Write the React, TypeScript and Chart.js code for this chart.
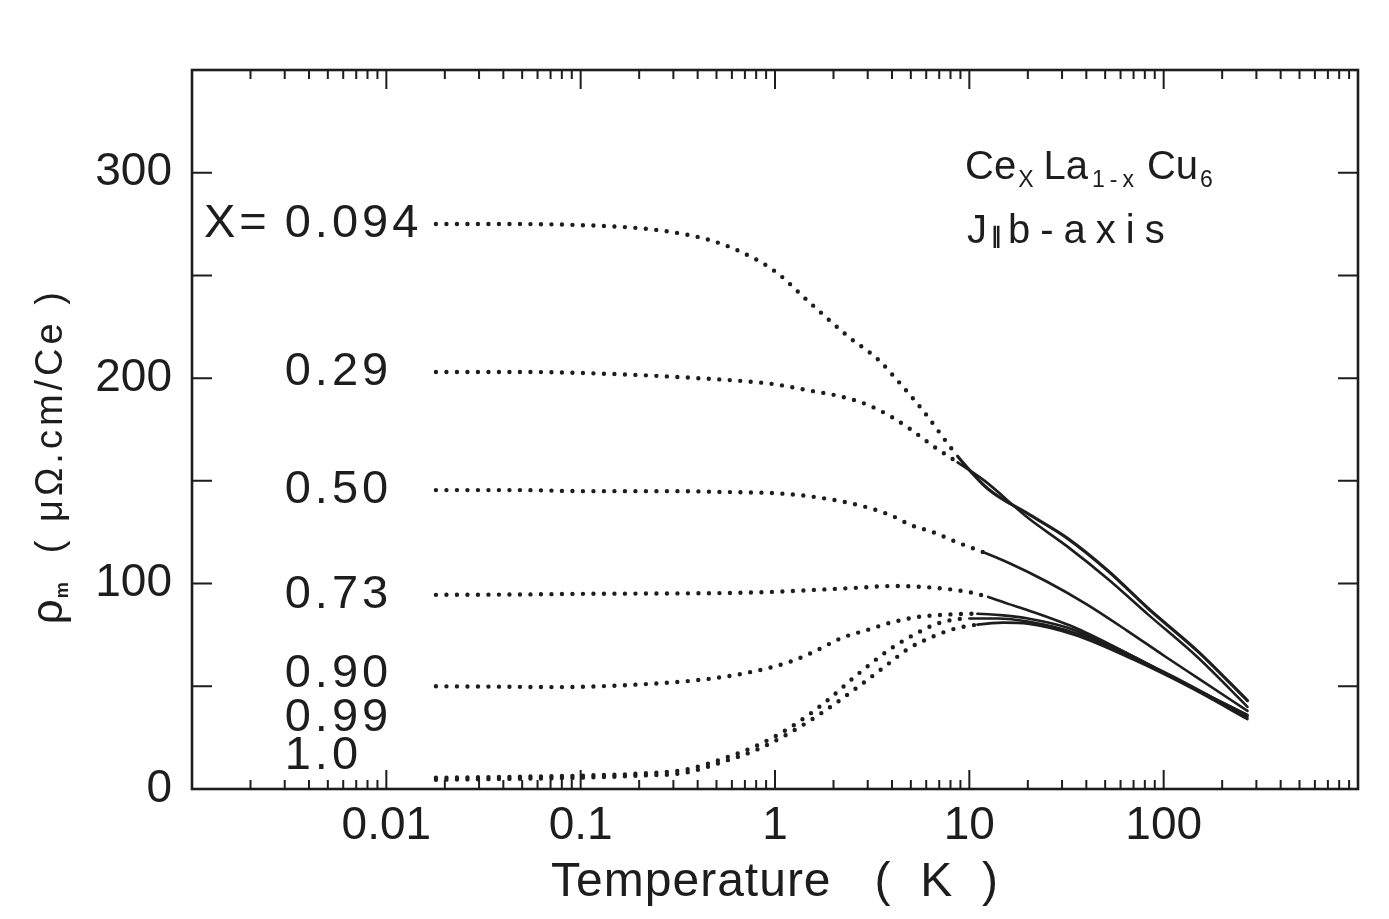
import React, { useEffect, useRef } from "react";
import { Chart, registerables } from "chart.js";

Chart.register(...registerables);

const FONT = "'Liberation Sans', Arial, sans-serif";
const INK = "#1d1d1d";

// ---- data (T in K, rho in μΩ·cm/Ce) ----
const t094 = [0.018, 0.03, 0.05, 0.1, 0.2, 0.3, 0.45, 0.65, 1.0, 1.5, 2.4, 3.4, 4.3, 5.8, 8.7, 12.5, 20, 32, 52, 83, 150, 270];
const rho094 = [275, 275, 275, 274.5, 273, 271, 267.5, 262, 252, 237, 220, 209, 198.5, 184, 162, 146, 134, 122, 106, 88, 67, 43];

const t029 = [0.018, 0.05, 0.1, 0.2, 0.4, 0.7, 1.0, 1.5, 2.2, 3.0, 4.0, 5.0, 6.5, 8.7, 12, 20, 32, 52, 83, 150, 270];
const rho029 = [203, 203, 202.5, 201.5, 200, 198.5, 197, 194, 191, 187, 181, 175, 167, 159, 150, 132, 118, 102, 85, 64, 40];

const t050 = [0.018, 0.05, 0.1, 0.3, 0.6, 1.0, 1.5, 2.2, 3.0, 4.0, 5.0, 6.5, 8.7, 12, 16, 25, 40, 65, 100, 150, 270];
const rho050 = [145.5, 145.5, 145, 145, 144.5, 144, 142.5, 140, 137, 133, 128.5, 125, 120, 115, 110, 101, 90, 77, 65, 54, 38];

const t073 = [0.018, 0.05, 0.1, 0.3, 0.55, 1.0, 1.5, 2.7, 4.0, 5.9, 7.8, 10, 12.5, 16, 20, 36, 65, 118, 270];
const rho073 = [94.5, 94.7, 95, 95.2, 95.4, 96, 96.8, 98, 98.8, 98.3, 97.3, 95.8, 93.5, 90, 87, 78, 66, 53, 36];

const t090 = [0.018, 0.04, 0.076, 0.21, 0.4, 0.67, 1.2, 1.6, 2.2, 3.0, 3.95, 5.4, 8.0, 11, 15, 20, 32, 65, 130, 270];
const rho090 = [50, 49.8, 49.6, 51, 53, 56, 62, 67, 73.5, 77.5, 81, 83.7, 85, 85.3, 84.5, 83, 78.5, 66, 51, 36];

const t099 = [0.018, 0.05, 0.1, 0.2, 0.35, 0.55, 0.8, 1.2, 1.8, 2.6, 3.9, 5.4, 7.1, 10, 14, 20, 35, 70, 140, 270];
const rho099 = [5.5, 6, 6.5, 7.5, 9.5, 15, 21, 30, 42, 55, 68, 76, 81, 83, 83, 81.5, 76, 64, 50, 35];

const t100 = [0.018, 0.05, 0.1, 0.2, 0.35, 0.55, 0.8, 1.2, 1.8, 2.7, 3.9, 4.8, 6.6, 8.4, 11, 15, 20, 35, 70, 140, 270];
const rho100 = [4.5, 5, 5.5, 6.5, 8, 13.5, 19, 27.5, 38, 50, 61.5, 68, 74.5, 78, 80, 81, 80.5, 75, 63, 49, 34];

const seriesLabels = ["0.094", "0.29", "0.50", "0.73", "0.90", "0.99", "1.0"];
const seriesT = [t094, t029, t050, t073, t090, t099, t100];
const seriesRho = [rho094, rho029, rho050, rho073, rho090, rho099, rho100];
// below this temperature the measurement is drawn as dots
const dottedBelow = [11, 9, 15, 12.5, 12, 13, 13];

// ---- axes ----
const xRange = [0.001, 1000];
const yRange = [0, 350];
const xTickLabels = [0.01, 0.1, 1, 10, 100];
const xDecades = [0.001, 0.01, 0.1, 1, 10, 100, 1000];
const xMinorFactors = [2, 3, 4, 5, 6, 7, 8, 9];
const yTickLabels = [0, 100, 200, 300];
const yTickMarks = [50, 100, 150, 200, 250, 300];

// label anchors (data units)
const labelT = 0.003;
const labelRho = [275, 203, 145.5, 94.5, 56, 34.5, 16];

function drawRuns(ctx: CanvasRenderingContext2D, x: number, y: number, runs: { text: string; size: number; dy?: number; spacing?: number; gap?: number; weight?: string }[]) {
  let cx = x;
  for (const r of runs) {
    cx += r.gap || 0;
    ctx.font = `${r.weight || ""} ${r.size}px ${FONT}`;
    (ctx as any).letterSpacing = `${r.spacing || 0}px`;
    ctx.fillText(r.text, cx, y + (r.dy || 0));
    cx += ctx.measureText(r.text).width;
  }
  (ctx as any).letterSpacing = "0px";
  return cx - x;
}

function runsWidth(ctx: CanvasRenderingContext2D, runs: { text: string; size: number; spacing?: number; gap?: number; weight?: string }[]) {
  let w = 0;
  for (const r of runs) {
    ctx.font = `${r.weight || ""} ${r.size}px ${FONT}`;
    (ctx as any).letterSpacing = `${r.spacing || 0}px`;
    w += (r.gap || 0) + ctx.measureText(r.text).width;
  }
  (ctx as any).letterSpacing = "0px";
  return w;
}

const decorPlugin = {
  id: "decor",
  afterDatasetsDraw(chart: any) {
    const { ctx, chartArea: a, scales } = chart;
    const xs = scales.x;
    const ys = scales.y;
    ctx.save();
    ctx.strokeStyle = INK;
    ctx.fillStyle = INK;

    // frame
    ctx.lineWidth = 2.6;
    ctx.strokeRect(a.left, a.top, a.right - a.left, a.bottom - a.top);

    // inward ticks
    ctx.lineWidth = 2;
    ctx.beginPath();
    for (const d of xDecades) {
      if (d > xRange[0] && d < xRange[1]) {
        const px = xs.getPixelForValue(d);
        ctx.moveTo(px, a.bottom);
        ctx.lineTo(px, a.bottom - 19);
        ctx.moveTo(px, a.top);
        ctx.lineTo(px, a.top + 19);
      }
      if (d < xRange[1]) {
        for (const f of xMinorFactors) {
          const px = xs.getPixelForValue(d * f);
          ctx.moveTo(px, a.bottom);
          ctx.lineTo(px, a.bottom - 9);
          ctx.moveTo(px, a.top);
          ctx.lineTo(px, a.top + 9);
        }
      }
    }
    for (const v of yTickMarks) {
      const py = ys.getPixelForValue(v);
      ctx.moveTo(a.left, py);
      ctx.lineTo(a.left + 20, py);
      ctx.moveTo(a.right, py);
      ctx.lineTo(a.right - 20, py);
    }
    ctx.stroke();

    // series labels
    const lx = xs.getPixelForValue(labelT);
    ctx.textBaseline = "middle";
    ctx.textAlign = "left";
    seriesLabels.forEach((s, i) => {
      const py = ys.getPixelForValue(labelRho[i]);
      ctx.font = `47px ${FONT}`;
      (ctx as any).letterSpacing = "4px";
      ctx.fillText(s, lx, py);
      if (i === 0) {
        ctx.textAlign = "right";
        ctx.fillText("X=", lx - 14, py);
        ctx.textAlign = "left";
      }
    });
    (ctx as any).letterSpacing = "0px";

    // composition annotation
    ctx.textBaseline = "alphabetic";
    const cx0 = a.left + 773;
    const cy0 = a.top + 109;
    drawRuns(ctx, cx0, cy0, [
      { text: "Ce", size: 40 },
      { text: "X", size: 23, dy: 8, gap: 2 },
      { text: "La", size: 40, gap: 10 },
      { text: "1-x", size: 23, dy: 8, gap: 4, spacing: 5 },
      { text: "Cu", size: 40, gap: 8 },
      { text: "6", size: 23, dy: 8, gap: 2 },
    ]);
    drawRuns(ctx, cx0 + 2, cy0 + 64, [
      { text: "J", size: 40 },
      { text: "∥", size: 22, gap: 4, weight: "bold" },
      { text: "b-axis", size: 40, gap: 6, spacing: 10 },
    ]);

    // x axis title
    const xt = [{ text: "Temperature   (  K  )", size: 48, spacing: 1 }];
    const xtw = runsWidth(ctx, xt);
    drawRuns(ctx, (a.left + a.right) / 2 - xtw / 2, a.bottom + 107, xt);

    // y axis title (rotated)
    const yt = [
      { text: "ρ", size: 44 },
      { text: "m", size: 18, dy: 6, gap: 1, weight: "bold" },
      { text: "  ( μΩ.cm/Ce )", size: 38, spacing: 4 },
    ];
    const ytw = runsWidth(ctx, yt);
    ctx.save();
    ctx.translate(62, ys.getPixelForValue(162));
    ctx.rotate(-Math.PI / 2);
    drawRuns(ctx, -ytw / 2, 0, yt);
    ctx.restore();

    ctx.restore();
  },
};

export default function App() {
  const ref = useRef<HTMLCanvasElement | null>(null);

  useEffect(() => {
    document.body.style.margin = "0";
    document.body.style.background = "#ffffff";
    const canvas = ref.current;
    if (!canvas) return;
    Chart.defaults.font.family = FONT;

    const chart = new Chart(canvas, {
      type: "line",
      data: {
        datasets: seriesT.map((ts, i) => ({
          label: "x = " + seriesLabels[i],
          data: ts.map((t, j) => ({ x: t, y: seriesRho[i][j] })),
          borderColor: INK,
          backgroundColor: INK,
          borderWidth: 2.5,
          pointRadius: 0,
          fill: false,
          cubicInterpolationMode: "monotone" as const,
          borderCapStyle: "round" as const,
          borderJoinStyle: "round" as const,
          segment: {
            borderDash: (c: any) => (c.p1.parsed.x <= dottedBelow[i] ? [0, 10.5] : []),
            borderWidth: (c: any) => (c.p1.parsed.x <= dottedBelow[i] ? 4.4 : i === 0 ? 3.2 : 2.6),
          },
        })),
      },
      options: {
        responsive: false,
        animation: false,
        events: [],
        layout: { padding: { top: 70, right: 31, left: 0, bottom: 0 } },
        plugins: { legend: { display: false }, tooltip: { enabled: false }, title: { display: false } },
        scales: {
          x: {
            type: "logarithmic",
            min: xRange[0],
            max: xRange[1],
            grid: { display: false, drawTicks: false },
            border: { display: false },
            ticks: {
              font: { family: FONT, size: 46 },
              color: INK,
              padding: 10,
              maxRotation: 0,
              autoSkip: false,
              callback: (v: any) => String(v),
            },
            afterBuildTicks: (s: any) => {
              s.ticks = xTickLabels.map((v) => ({ value: v }));
            },
            afterFit: (s: any) => {
              s.height = 130;
            },
          },
          y: {
            type: "linear",
            min: yRange[0],
            max: yRange[1],
            grid: { display: false, drawTicks: false },
            border: { display: false },
            ticks: {
              font: { family: FONT, size: 46 },
              color: INK,
              padding: 20,
              callback: (v: any) => String(v),
            },
            afterBuildTicks: (s: any) => {
              s.ticks = yTickLabels.map((v) => ({ value: v }));
            },
            afterFit: (s: any) => {
              s.width = 192;
            },
          },
        },
      } as any,
      plugins: [decorPlugin],
    });
    return () => chart.destroy();
  }, []);

  return (
    <div style={{ width: 1389, height: 919, background: "#fff" }}>
      <canvas ref={ref} width={1389} height={919} style={{ display: "block" }} />
    </div>
  );
}
